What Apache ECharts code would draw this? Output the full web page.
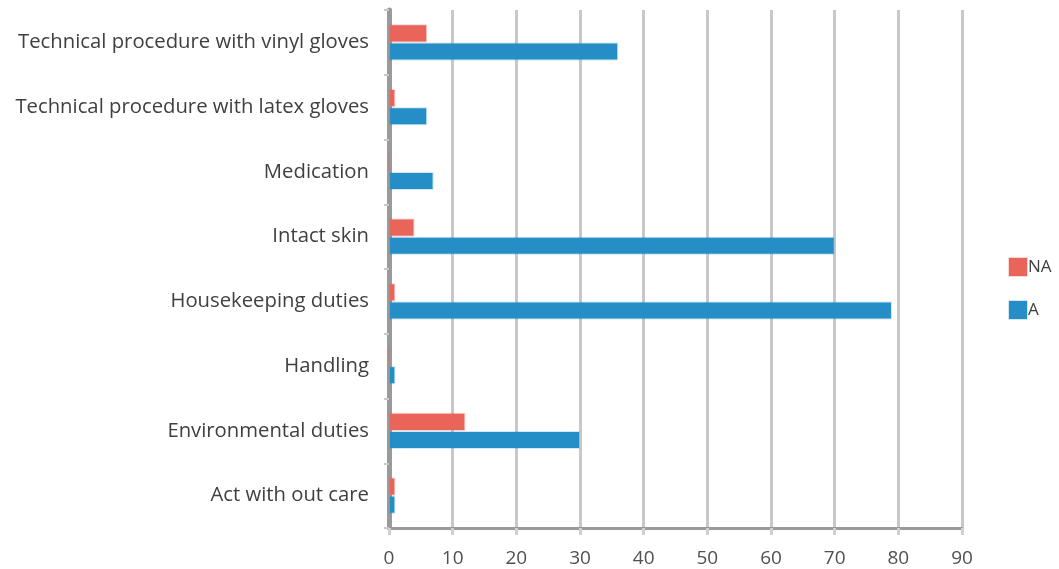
<!DOCTYPE html>
<html>
<head>
<meta charset="utf-8">
<script src="https://cdn.jsdelivr.net/npm/echarts@6/dist/echarts.min.js"></script>
<style>html,body{margin:0;padding:0;background:#fff}#c{width:1059px;height:569px}</style>
</head>
<body>
<div id="c"></div>
<script>
const categories = ['Act with out care','Environmental duties','Handling','Housekeeping duties','Intact skin','Medication','Technical procedure with latex gloves','Technical procedure with vinyl gloves'];
const valuesA  = [1, 30, 1, 79, 70, 7, 6, 36];
const valuesNA = [1, 12, 0, 1, 4, 0, 1, 6];
const xTicks = {min: 0, max: 90, interval: 10};

const chart = echarts.init(document.getElementById('c'), null, {renderer: 'canvas'});
chart.setOption({
  animation: false,
  backgroundColor: '#ffffff',
  grid: {left: 389, right: 97, top: 10, bottom: 41, containLabel: false},
  legend: {
    orient: 'vertical', left: 1008, top: 257, padding: 0,
    data: ['NA', 'A'],
    itemWidth: 18, itemHeight: 18, itemGap: 23,
    icon: 'rect',
    textStyle: {fontFamily: 'Open Sans', fontSize: 17, color: '#404040', padding: [0,0,0,-4]}
  },
  xAxis: {
    type: 'value', min: xTicks.min, max: xTicks.max, interval: xTicks.interval,
    axisLine: {show: true, lineStyle: {color: '#9a9a9a', width: 3}},
    axisTick: {show: true, length: 7, lineStyle: {color: '#d0d0d0', width: 3}},
    axisLabel: {fontFamily: 'Open Sans', fontSize: 19, color: '#505050', margin: 21},
    splitLine: {show: true, lineStyle: {color: '#c8c8c8', width: 3}}
  },
  yAxis: {
    type: 'category', data: categories,
    axisLine: {show: true, lineStyle: {color: '#9a9a9a', width: 5}},
    axisTick: {show: true, length: 5, lineStyle: {color: '#c8c8c8', width: 2}},
    axisLabel: {fontFamily: 'Open Sans', fontSize: 20.3, color: '#404040', margin: 20}
  },
  series: [
    {name: 'NA', type: 'bar', data: valuesNA, barGap: '0%', barCategoryGap: '44%',
     itemStyle: {color: '#e9655a', borderColor: 'rgba(233,101,90,0.25)', borderWidth: 2}},
    {name: 'A', type: 'bar', data: valuesA, barGap: '0%', barCategoryGap: '44%',
     itemStyle: {color: '#258ec7', borderColor: 'rgba(37,142,199,0.2)', borderWidth: 2}}
  ]
});
</script>
</body>
</html>
